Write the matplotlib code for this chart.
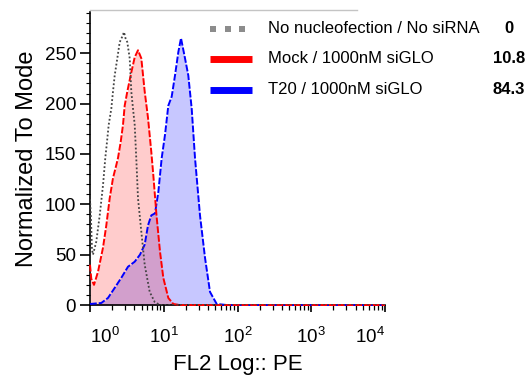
import matplotlib
matplotlib.use('Agg')
from matplotlib import pyplot as plt
from matplotlib.lines import Line2D
from matplotlib.ticker import FixedLocator, LogLocator, MultipleLocator, NullFormatter

plt.rcParams['font.family'] = ['Liberation Sans', 'DejaVu Sans']
plt.rcParams['mathtext.fontset'] = 'custom'
plt.rcParams['mathtext.rm'] = 'Liberation Sans'
plt.rcParams['mathtext.it'] = 'Liberation Sans'

# FL2 强度 / 归一化计数，从图上读出来的
gray_x = [1.0, 1.032, 1.064, 1.098, 1.217, 1.354, 1.501, 1.612, 1.70, 1.793, 1.945, 2.05, 2.162,
          2.346, 2.527, 2.716, 2.891, 3.029, 3.205, 3.454, 3.631, 3.83, 4.037, 4.245, 4.475,
          4.962, 5.516, 6.449, 7.54, 8.896, 10000]
gray_y = [105, 85, 55, 50, 63, 89, 119, 146, 162, 179, 195, 212, 228,
          245, 261, 266, 271, 265, 261, 245, 212, 195, 179, 145, 106,
          73, 40, 13, 3, 0, 0]

red_x = [1.0, 1.041, 1.133, 1.284, 1.501, 1.663, 1.85, 2.05, 2.273, 2.397, 2.608, 2.802, 2.954,
         3.205, 3.631, 4.037, 4.475, 4.962, 5.516, 6.114, 6.78, 7.218, 7.975, 8.896, 9.86,
         11.53, 13.48, 16.61, 10000]
red_y = [40, 26, 20, 33, 57, 79, 106, 126, 139, 146, 162, 179, 198,
         212, 231, 246, 253, 245, 212, 186, 152, 129, 89, 53, 27,
         7, 1, 0, 0]

blue_x = [1.0, 1.423, 1.754, 2.162, 2.657, 3.275, 4.037, 4.764, 5.516, 6.114, 6.78, 7.61, 8.438,
          9.381, 10.4, 11.53, 12.82, 14.21, 15.75, 17.13, 19.42, 21.52, 23.93, 26.53, 31.01,
          36.25, 42.38, 52.24, 71.4, 10000]
blue_y = [1, 2, 7, 17, 27, 38, 43, 50, 60, 79, 89, 91, 112,
          146, 169, 198, 207, 228, 251, 265, 245, 228, 195, 146, 89,
          47, 13, 1, 0, 0]

names = ['No nucleofection / No siRNA', 'Mock / 1000nM siGLO', 'T20 / 1000nM siGLO']
pcts = ['0', '10.8', '84.3']

W, H = 529, 383
fig = plt.figure(figsize=(W / 100, H / 100), dpi=100)
ax = fig.add_axes([90 / W, 78 / H, 295 / W, 293 / H])

ax.fill_between(blue_x, blue_y, 0, color='blue', alpha=0.22, lw=0)
ax.fill_between(red_x, red_y, 0, color='red', alpha=0.2, lw=0)
ax.plot(blue_x, blue_y, color='blue', lw=1.4, ls=(0, (3.5, 1)), zorder=3, clip_on=False)
ax.plot(red_x, red_y, color='red', lw=1.4, ls=(0, (3.5, 1)), zorder=3, clip_on=False)
ax.plot(gray_x, gray_y, color='#444444', lw=1.3, ls=(0, (1, 1.2)), zorder=3)

ax.set_xscale('log')
ax.set_xlim(1, 10000)
ax.set_ylim(0, 291)

ax.xaxis.set_major_locator(FixedLocator([1, 10, 100, 1000, 10000]))
ax.xaxis.set_minor_locator(LogLocator(base=10, subs=range(2, 10)))
ax.xaxis.set_minor_formatter(NullFormatter())
ax.set_xticklabels(['$10^0$', '$10^1$', '$10^2$', '$10^3$', '$10^4$'])
labs = ax.get_xticklabels()
labs[0].set_horizontalalignment('left')
labs[-1].set_horizontalalignment('right')

ax.yaxis.set_major_locator(FixedLocator([0, 50, 100, 150, 200, 250]))
ax.yaxis.set_minor_locator(MultipleLocator(10))

ax.tick_params(axis='both', which='major', labelsize=13.5, width=1.2, direction='out')
ax.tick_params(axis='y', which='major', length=7, pad=3)
ax.tick_params(axis='x', which='major', length=5, pad=11)
ax.tick_params(axis='y', which='minor', length=3, width=0.8)
ax.tick_params(axis='x', which='minor', length=3.5, width=0.9)

for s in ['top', 'right']:
    ax.spines[s].set_visible(False)
ax.spines['left'].set_linewidth(1.2)
ax.spines['bottom'].set_linewidth(1.2)

ax.set_xlabel('FL2 Log:: PE', fontsize=16, labelpad=5)
ax.set_ylabel('Normalized To Mode', fontsize=17, labelpad=5)

# 上面那条浅灰线
fig.add_artist(Line2D([90 / W, 357 / W], [1 - 10 / H, 1 - 10 / H], color='#c4c4c4', lw=1))

# 图例，手动画
rows = [28.5, 58.5, 89.5]
for i in range(3):
    fy = 1 - rows[i] / H
    if i == 0:
        # 三个灰色小方块
        fig.add_artist(Line2D([213 / W, 228 / W, 242 / W], [fy, fy, fy], ls='none', marker='s',
                              markersize=4.5, color='#8c8c8c', markeredgewidth=0))
    else:
        c = 'red' if i == 1 else 'blue'
        fig.add_artist(Line2D([210 / W, 252 / W], [fy, fy], color=c, lw=5, solid_capstyle='butt'))
    fig.text(268 / W, fy, names[i], fontsize=12, va='center', ha='left')
    fig.text(509 / W, fy, pcts[i], fontsize=12, va='center', ha='center', fontweight='bold')

fig.savefig('out.png', dpi=100)
